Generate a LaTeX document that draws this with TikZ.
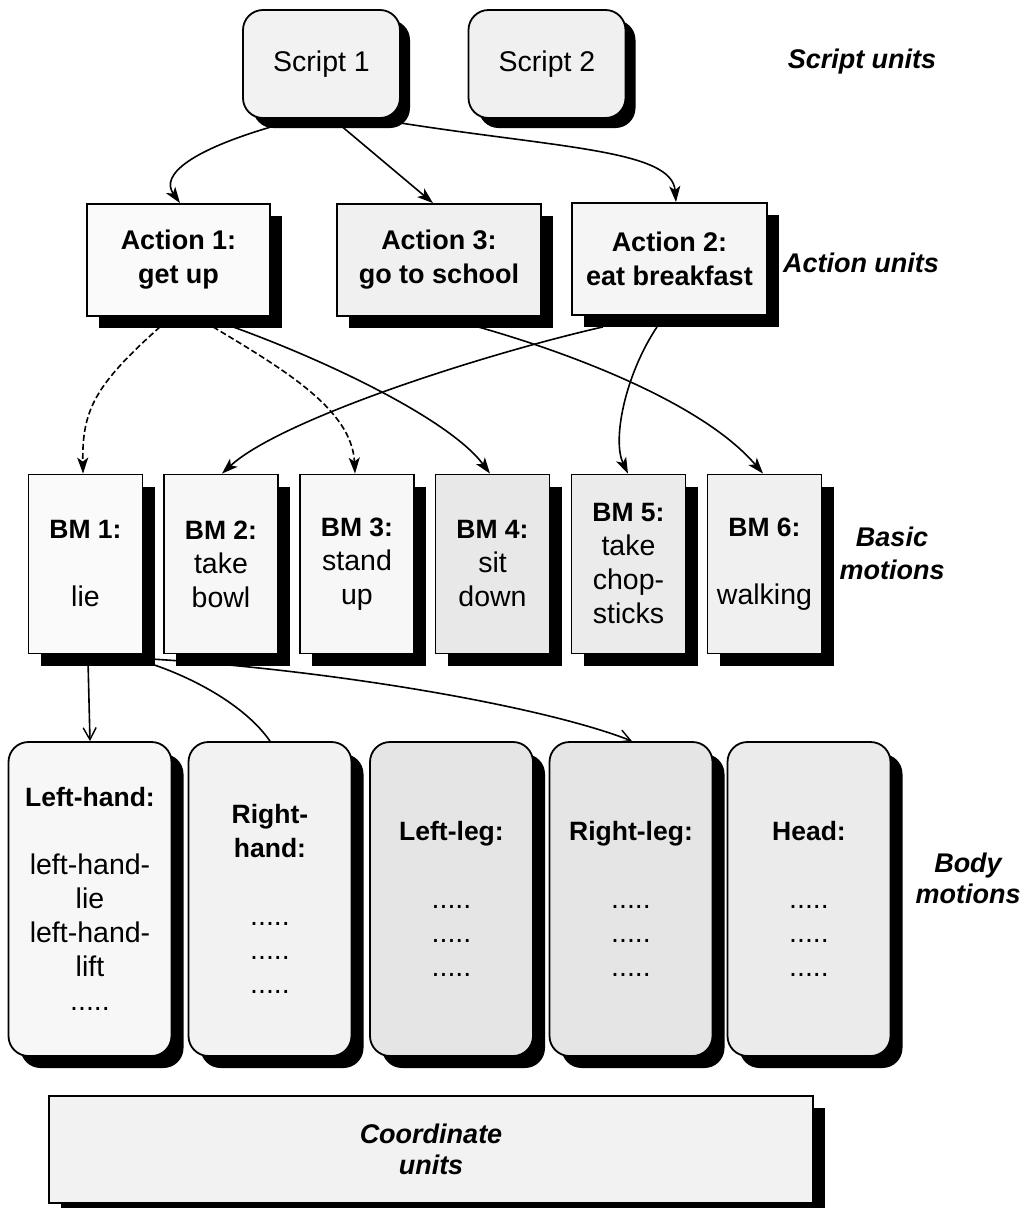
\documentclass[tikz,border=0pt]{standalone}
\usepackage{fontspec}
\setmainfont{Liberation Sans}
\usetikzlibrary{shadows,arrows.meta,calc}
\pgfdeclarelayer{background}
\pgfsetlayers{background,main}
\newcommand{\hb}[1]{{\fontsize{26.5}{34}\selectfont\bfseries #1}}
\begin{document}
\begin{tikzpicture}[x=1pt,y=-1pt,
  box/.style={draw=black, line width=1.8pt, inner sep=0pt, align=center,
    font=\fontsize{28.5}{34}\selectfont},
  shd/.style={drop shadow={shadow xshift=#1, shadow yshift=-#1, fill=black, opacity=1}},
  shd/.default=12pt,
  scriptbox/.style={box, shd=10pt, rounded corners=20pt, minimum width=157pt, minimum height=108pt},
  actbox/.style={box, shd, minimum height=112pt, font=\fontsize{27}{34}\selectfont\bfseries},
  bmbox/.style={box, shd, minimum width=114pt, minimum height=179pt},
  bodybox/.style={box, shd, rounded corners=20pt, minimum width=163pt, minimum height=314pt},
  lbl/.style={inner sep=0pt, align=center, font=\fontsize{27}{33}\selectfont\bfseries\itshape},
  conn/.style={line width=1.6pt, draw=black},
  dsh/.style={dash pattern=on 6pt off 3pt},
  tipf/.style={-{Stealth[length=16pt,width=11pt,inset=4pt]}},
  tipo/.style={-{Straight Barb[length=12pt,width=13pt,line width=1.4pt]}}
]
\useasboundingbox (0,0) rectangle (1035,1208);

% Script units
\node[scriptbox, fill=black!5] (s1) at (321.5,64) {Script 1};
\node[scriptbox, fill=black!6] (s2) at (547,64) {Script 2};
\node[lbl, anchor=base] (ls) at (862,68) {Script units};

% Action units
\node[actbox, fill=black!2, minimum width=183pt] (a1) at (178.5,260) {Action 1:\\get up};
\node[actbox, fill=black!6, minimum width=204pt] (a3) at (439,260) {Action 3:\\go to school};
\node[actbox, fill=black!4, minimum width=195pt] (a2) at (669.5,259) {Action 2:\\eat breakfast};
\node[lbl, anchor=base] (la) at (861,272) {Action units};

% Basic motions
\node[bmbox, fill=black!2] (bm1) at (85.5,564) {\hb{BM 1:}\\[34pt]lie};
\node[bmbox, fill=black!3] (bm2) at (221,564) {\hb{BM 2:}\\take\\bowl};
\node[bmbox, fill=black!3] (bm3) at (357,564) {\hb{BM 3:}\\stand\\up};
\node[bmbox, fill=black!9] (bm4) at (492.5,564) {\hb{BM 4:}\\sit\\down};
\node[bmbox, fill=black!8] (bm5) at (628.5,564) {\hb{BM 5:}\\take\\chop-\\sticks};
\node[bmbox, fill=black!6] (bm6) at (764.5,564) {\hb{BM 6:}\\[34pt]walking};
\node[lbl, anchor=north] (lb) at (892,526.5) {Basic\\motions};

% Body motions
\node[bodybox, fill=black!3] (lh) at (90,899) {\hb{Left-hand:}\\[34pt]left-hand-\\lie\\left-hand-\\lift\\.....};
\node[bodybox, fill=black!5] (rh) at (270,899) {\hb{Right-}\\\hb{hand:}\\[34pt].....\\.....\\.....};
\node[bodybox, fill=black!10] (ll) at (451.5,899) {\hb{Left-leg:}\\[34pt].....\\.....\\.....};
\node[bodybox, fill=black!10] (rl) at (631,899) {\hb{Right-leg:}\\[34pt].....\\.....\\.....};
\node[bodybox, fill=black!8] (hd) at (809,899) {\hb{Head:}\\[34pt].....\\.....\\.....};
\node[lbl, anchor=north, font=\fontsize{27}{31}\selectfont\bfseries\itshape] (lbo) at (968,852.7) {Body\\motions};

% Coordinate units
\node[box, shd, fill=black!5, minimum width=764pt, minimum height=107pt,
  font=\fontsize{27}{31}\selectfont\bfseries\itshape] (cu) at (431,1149.5) {Coordinate\\units};

\begin{pgfonlayer}{background}
% script -> actions
\draw[conn, tipf] ([xshift=-43.5pt,yshift=-6pt]s1.south) .. controls (190,150) and (160,175) .. ([xshift=1.5pt]a1.north);
\draw[conn, tipf] ([xshift=18.5pt,yshift=-6pt]s1.south) -- ([xshift=-6pt]a3.north);
\draw[conn, tipf] ([xshift=78.5pt,yshift=-4pt]s1.south) .. controls (560,148) and (672,150) .. ([xshift=6.5pt]a2.north);
% actions -> basic motions
\draw[conn, dsh, tipf] ([xshift=-18.5pt,yshift=-10pt]a1.south) .. controls (95,385) and (82,410) .. ([xshift=-2.5pt]bm1.north);
\draw[conn, dsh, tipf] ([xshift=34.5pt,yshift=-10pt]a1.south) .. controls (285,370) and (352,410) .. ([xshift=-2pt]bm3.north);
\draw[conn, tipf] ([xshift=54.5pt,yshift=-10pt]a1.south) .. controls (330,362) and (450,420) .. ([xshift=-2.5pt]bm4.north);
\draw[conn, tipf] ([xshift=-66.5pt,yshift=-11pt]a2.south) .. controls (480,355) and (280,420) .. ([xshift=1pt]bm2.north);
\draw[conn, tipf] ([xshift=-12.5pt,yshift=-11pt]a2.south) .. controls (625,375) and (612,440) .. ([xshift=-0.5pt]bm5.north);
\draw[conn, tipf] ([xshift=39pt,yshift=-10pt]a3.south) .. controls (560,350) and (700,400) .. ([xshift=-1.5pt]bm6.north);
% basic motion -> body motions
\draw[conn, tipo] ([xshift=2.5pt,yshift=-6pt]bm1.south) -- (lh.north);
\draw[conn] ([xshift=54.5pt,yshift=-6pt]bm1.south) .. controls (190,675) and (245,705) .. (rh.north);
\draw[conn, tipo] ([xshift=54.5pt,yshift=-4pt]bm1.south) .. controls (320,668) and (540,705) .. ([xshift=1pt]rl.north);
\end{pgfonlayer}
\end{tikzpicture}
\end{document}
